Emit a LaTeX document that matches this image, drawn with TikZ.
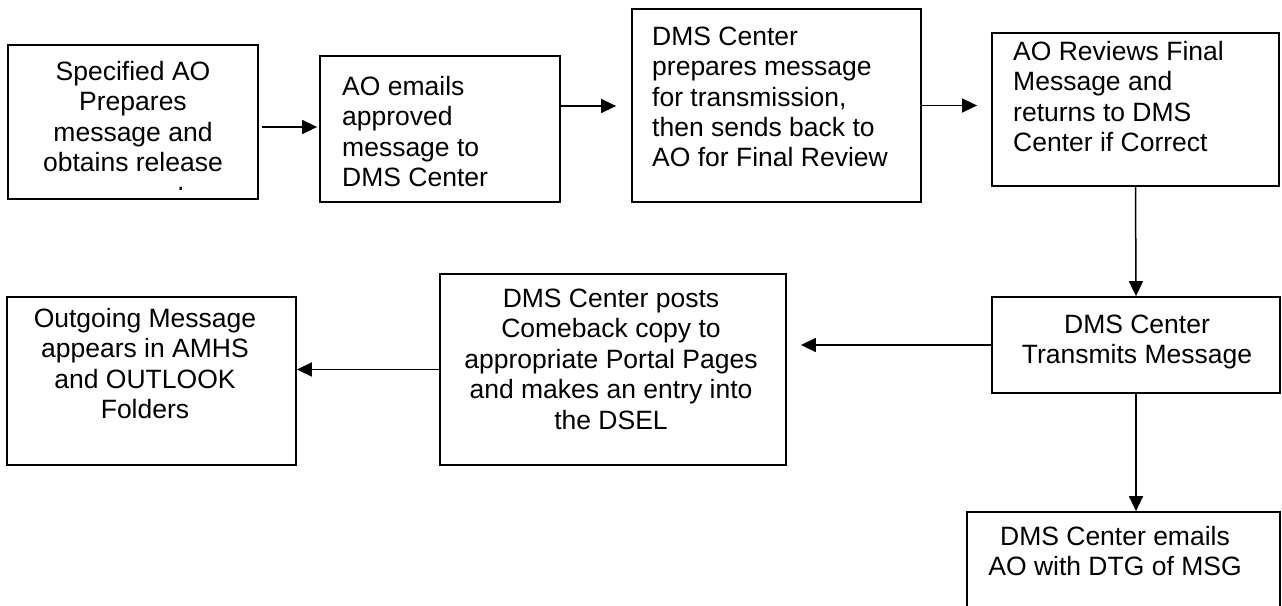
\documentclass[tikz,border=0pt]{standalone}
\usepackage{fontspec}
\setmainfont{Liberation Sans}
\usetikzlibrary{arrows.meta}
\newcommand\mylines[2]{\begin{tabular}[t]{@{}#1@{}}#2\end{tabular}}
\begin{document}
\begin{tikzpicture}[x=1pt,y=-1pt,
  box/.style={draw=black,line width=1.8pt,rectangle,inner sep=0pt},
  txt/.style={inner sep=0pt,font=\fontsize{26.5}{30.5}\selectfont},
  arr/.style={draw=black,line width=1.5pt,-{Triangle[length=15pt,width=14pt]}}]
\useasboundingbox[fill=white] (0,0) rectangle (1282,605);
\begin{scope}
\clip (0,0) rectangle (1282,605);
% boxes
\node[box,minimum width=250pt,minimum height=154pt] (b1) at (133,122) {};
\node[box,minimum width=240pt,minimum height=146pt] (b2) at (440,129) {};
\node[box,minimum width=289pt,minimum height=193pt] (b3) at (776.5,105.5) {};
\node[box,minimum width=287pt,minimum height=153pt] (b4) at (1135.5,109.5) {};
\node[box,minimum width=288pt,minimum height=96pt] (b5) at (1136,345) {};
\node[box,minimum width=346pt,minimum height=191pt] (b6) at (613,369.5) {};
\node[box,minimum width=289pt,minimum height=168pt] (b7) at (151.5,381) {};
\node[box,minimum width=313pt,minimum height=128pt] (b8) at (1123.5,576) {};
% texts
\begin{scope}
\clip (8,45) rectangle (258,189.5);
\node[txt,anchor=base] (t1) at (133,80) {\mylines{c}{Specified AO\\Prepares\\message and\\obtains release\\[4pt]approval}};
\end{scope}
\node[txt,anchor=base west] (t2) at (342,95) {\mylines{l}{AO emails\\approved\\message to\\DMS Center}};
\node[txt,anchor=base west] (t3) at (652,45) {\mylines{l}{DMS Center\\prepares message\\for transmission,\\then sends back to\\AO for Final Review}};
\node[txt,anchor=base west] (t4) at (1013,60) {\mylines{l}{AO Reviews Final\\Message and\\returns to DMS\\Center if Correct}};
\node[txt,anchor=base] (t5) at (1137,333) {\mylines{c}{DMS Center\\Transmits Message}};
\node[txt,anchor=base] (t6) at (611,307) {\mylines{c}{DMS Center posts\\Comeback copy to\\appropriate Portal Pages\\and makes an entry into\\the DSEL}};
\node[txt,anchor=base] (t7) at (145,327) {\mylines{c}{Outgoing Message\\appears in AMHS\\and OUTLOOK\\Folders}};
\node[txt,anchor=base] (t8) at (1115,545) {\mylines{c}{DMS Center emails\\AO with DTG of MSG}};
% connectors
\coordinate (y1) at (0,127);
\coordinate (y2) at (0,106);
\draw[arr,shorten <=3pt,shorten >=2pt] (b1.east |- y1) -- (b2.west |- y1);
\draw[arr,shorten >=15pt] (b2.east |- y2) -- (b3.west |- y2);
\draw[arr,shorten >=14pt] (b3.east) -- (b4.west |- b3.east);
\draw[arr] (b4.south) -- (b5.north);
\draw[arr,shorten >=14pt] (b5.west) -- (b6.east |- b5.west);
\draw[arr] (b6.west) -- (b7.east |- b6.west);
\draw[arr] (b5.south) -- (b8.north -| b5.south);
\end{scope}
\end{tikzpicture}
\end{document}
